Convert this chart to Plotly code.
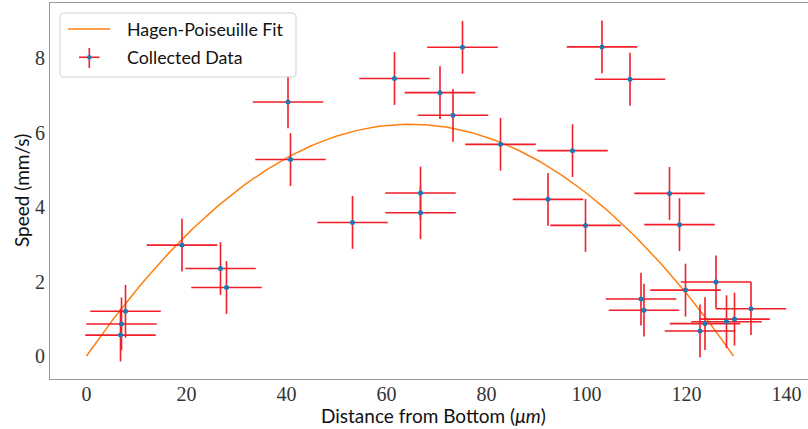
import re
import numpy as np
import plotly.graph_objects as go

# Collected data (distance in um, speed in mm/s)
distance = [6.8, 7.0, 7.8, 19.1, 26.8, 28.0, 40.3, 40.8, 53.2, 61.6, 66.8, 66.8,
            70.7, 73.3, 75.2, 82.8, 92.3, 97.2, 99.8, 103.1, 108.7, 110.9, 111.5,
            116.6, 118.6, 119.8, 122.7, 123.7, 125.9, 128.0, 129.6, 132.9]
speed = [0.56, 0.86, 1.20, 2.98, 2.35, 1.84, 6.83, 5.28, 3.59, 7.46, 4.38, 3.85,
         7.08, 6.47, 8.30, 5.69, 4.21, 5.52, 3.51, 8.31, 7.44, 1.53, 1.23,
         4.37, 3.53, 1.77, 0.67, 0.87, 1.99, 0.92, 0.99, 1.27]
distance_err = 7.05
speed_err = 0.71

# Hagen-Poiseuille fit parameters
fit_vmax = 6.23
fit_width = 129.4
fit_x = np.linspace(0, fit_width, 200)
fit_y = fit_vmax * (1 - ((fit_x - fit_width / 2) / (fit_width / 2)) ** 2)

x_ticks = [0, 20, 40, 60, 80, 100, 120, 140]
y_ticks = [0, 2, 4, 6, 8]

W, H = 808, 429
L, R, T, B = 50, 0, 3, 50
RED = "#f21e28"


def px_x(v):
    return (v - L) / (W - L - R)


def px_y(v):
    return 1 - (v - T) / (H - T - B)


fig = go.Figure()
fig.add_trace(go.Scatter(x=fit_x, y=fit_y, mode="lines",
                         line=dict(color="#ff7f0e", width=1.5),
                         name="Hagen-Poiseuille Fit", showlegend=False))
fig.add_trace(go.Scatter(
    x=distance, y=speed, mode="markers",
    marker=dict(color="#1f77b4", size=5),
    error_x=dict(type="constant", value=distance_err, color=RED, thickness=1.6, width=0),
    error_y=dict(type="constant", value=speed_err, color=RED, thickness=1.6, width=0),
    name="Collected Data", showlegend=False))

tickfont = dict(family="Liberation Serif", size=20, color="#333")
axis_common = dict(showgrid=False, zeroline=False, showline=True, linecolor="#999",
                   linewidth=1.2, ticks="", tickfont=tickfont, automargin=False)
fig.update_xaxes(range=[-7.3, 144.3], tickvals=x_ticks, mirror=True, ticklabelstandoff=-3,
                 **axis_common)
fig.update_yaxes(range=[-0.62, 9.49], tickvals=y_ticks, **axis_common)

sans = "Lato"
legfont = dict(family=sans, size=17.8, color="#111")
titlefont = dict(family=sans, size=19, color="#111")

# axis titles
fig.add_annotation(x=px_x(433), y=px_y(415), xref="paper", yref="paper",
                   text="Distance from Bottom (<i>μm</i>)", showarrow=False,
                   xanchor="center", yanchor="middle", font=titlefont)
fig.add_annotation(x=px_x(21), y=px_y(191), xref="paper", yref="paper",
                   text="Speed (mm/s)", textangle=-90, showarrow=False,
                   xanchor="center", yanchor="middle", font=titlefont)

# manual legend (pixel geometry)
shapes = [
    dict(type="path", path="M 64 13 L 292 13 Q 296 13 296 17 L 296 73 Q 296 77 292 77 L 64 77 Q 60 77 60 73 L 60 17 Q 60 13 64 13 Z",
         line=dict(color="#d0d0d0", width=1), fillcolor="rgba(255,255,255,0.85)"),
    dict(type="line", x0=68, x1=110, y0=29, y1=29, line=dict(color="#ff7f0e", width=1.5)),
    dict(type="line", x0=79, x1=99.5, y0=57.3, y1=57.3, line=dict(color=RED, width=1.6)),
    dict(type="line", x0=89.3, x1=89.3, y0=48, y1=68, line=dict(color=RED, width=1.6)),
    dict(type="circle", x0=87, x1=91.6, y0=55, y1=59.6, fillcolor="#1f77b4", line=dict(width=0)),
]
final_shapes = []
for s in shapes:
    s = dict(s)
    s["xref"] = "paper"; s["yref"] = "paper"
    if s["type"] == "path":
        res = []
        k = 0
        for t in s["path"].split():
            if re.fullmatch(r"[-0-9.]+", t):
                v = float(t)
                res.append(f"{(px_x(v) if k % 2 == 0 else px_y(v)):.5f}")
                k += 1
            else:
                res.append(t)
        s["path"] = " ".join(res)
    else:
        s["x0"], s["x1"] = px_x(s["x0"]), px_x(s["x1"])
        s["y0"], s["y1"] = px_y(s["y0"]), px_y(s["y1"])
    final_shapes.append(s)

fig.add_annotation(x=px_x(124.5), y=px_y(29), xref="paper", yref="paper", text="Hagen-Poiseuille Fit",
                   showarrow=False, xanchor="left", yanchor="middle", font=legfont)
fig.add_annotation(x=px_x(124.5), y=px_y(57.3), xref="paper", yref="paper", text="Collected Data",
                   showarrow=False, xanchor="left", yanchor="middle", font=legfont)

fig.update_layout(width=W, height=H, margin=dict(l=L, r=R, t=T, b=B),
                  plot_bgcolor="white", paper_bgcolor="white", showlegend=False,
                  shapes=final_shapes)
fig.write_html("out.html", config={"displayModeBar": False},
               post_script="document.body.style.margin='0';document.body.style.overflow='hidden';")
